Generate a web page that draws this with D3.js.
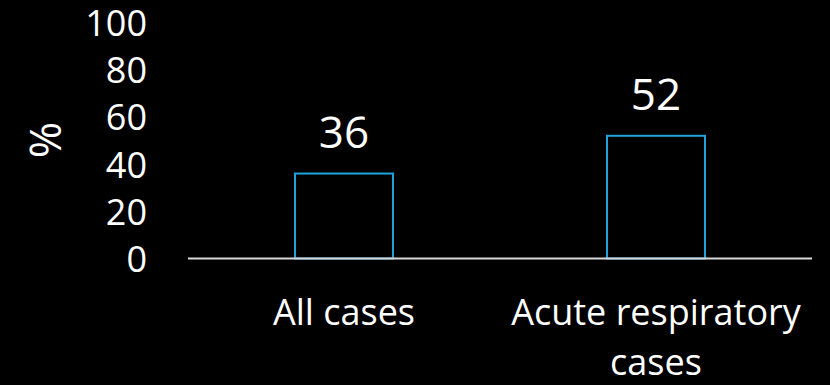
<!DOCTYPE html>
<html>
<head>
<meta charset="utf-8">
<script src="https://cdn.jsdelivr.net/npm/d3@7"></script>
<style>
  html, body { margin: 0; padding: 0; background: #000; }
  svg { display: block; }
  text { font-family: "Open Sans", sans-serif; fill: #ffffff; }
</style>
</head>
<body>
<svg id="chart" width="830" height="385"></svg>
<script>
// Share of cases (%) by case group
const categories = [["All cases"], ["Acute respiratory", "cases"]];
const values = [36, 52];
const yTicks = [0, 20, 40, 60, 80, 100];
const yLabel = "%";

const svg = d3.select("#chart");

const x = d3.scaleBand()
  .domain(d3.range(values.length))
  .range([188, 812])
  .paddingInner(0.686)
  .paddingOuter(0.343);

const y = d3.scaleLinear()
  .domain([0, 100])
  .range([258.5, 22.5]);

// y-axis tick labels (no axis line)
const yAxis = d3.axisLeft(y).tickValues(yTicks).tickSize(0).tickPadding(0);
const gy = svg.append("g").attr("transform", "translate(147,0)").call(yAxis);
gy.select(".domain").remove();
gy.selectAll("text")
  .attr("fill", "#ffffff")
  .style("font-family", "'Open Sans', sans-serif")
  .style("font-size", "36px")
  .attr("dy", "0.36em");

// y-axis title
svg.append("text")
  .attr("transform", "translate(45,140) rotate(-90)")
  .attr("text-anchor", "middle")
  .attr("dy", "0.36em")
  .style("font-size", "44px")
  .text(yLabel);

// bars: outlined, unfilled
svg.append("g").selectAll("rect")
  .data(values)
  .join("rect")
  .attr("x", (d, i) => x(i))
  .attr("y", d => y(d))
  .attr("width", x.bandwidth())
  .attr("height", d => y(0) - y(d))
  .attr("fill", "#000")
  .attr("stroke", "#1ea3dd")
  .attr("stroke-width", 2);

// baseline
svg.append("line")
  .attr("x1", 188).attr("x2", 812)
  .attr("y1", y(0)).attr("y2", y(0))
  .attr("stroke", "#d9d9d9")
  .attr("stroke-width", 2);

// value labels
svg.append("g").selectAll("text")
  .data(values)
  .join("text")
  .attr("x", (d, i) => x(i) + x.bandwidth() / 2)
  .attr("y", d => y(d) - 26)
  .attr("text-anchor", "middle")
  .style("font-size", "44px")
  .text(d => d);

// category labels (wrapped over lines)
const cat = svg.append("g").selectAll("text")
  .data(categories)
  .join("text")
  .attr("x", (d, i) => x(i) + x.bandwidth() / 2)
  .attr("y", 325)
  .attr("text-anchor", "middle")
  .style("font-size", "36px");
cat.selectAll("tspan")
  .data((d, i) => d.map(line => ({ line, i })))
  .join("tspan")
  .attr("x", d => x(d.i) + x.bandwidth() / 2)
  .attr("dy", (d, j) => j === 0 ? 0 : 50)
  .text(d => d.line);
</script>
</body>
</html>
